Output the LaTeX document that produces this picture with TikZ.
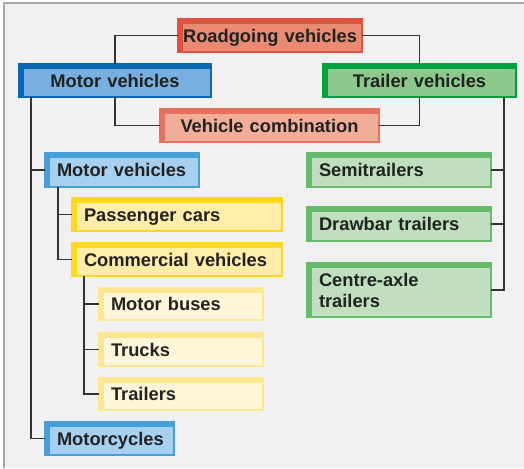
\documentclass[tikz,border=0pt]{standalone}
\usepackage{fontspec}
\setmainfont{Liberation Sans}
\definecolor{framegray}{HTML}{A6A6A6}
\definecolor{bggray}{HTML}{F1F1F1}
\definecolor{linegray}{HTML}{333333}
\definecolor{textgray}{HTML}{222222}
\definecolor{roadline}{HTML}{E2503E}
\definecolor{roadfill}{HTML}{E98A72}
\definecolor{combiline}{HTML}{E8705F}
\definecolor{combifill}{HTML}{F0AD97}
\definecolor{motorline}{HTML}{0A67B2}
\definecolor{motorfill}{HTML}{79AFE0}
\definecolor{trailerline}{HTML}{00A03E}
\definecolor{trailerfill}{HTML}{8DC98D}
\definecolor{mvline}{HTML}{45A0DA}
\definecolor{mvfill}{HTML}{A7D0F0}
\definecolor{greenline}{HTML}{66BA6C}
\definecolor{greenfill}{HTML}{BFDFBE}
\definecolor{yelline}{HTML}{FFD81C}
\definecolor{yelfill}{HTML}{FFEDA8}
\definecolor{paleline}{HTML}{FFE690}
\definecolor{palefill}{HTML}{FFF6DA}
\tikzset{
  box/.style={line width=1.2pt, outer sep=0pt, inner xsep=0pt, inner ysep=0pt,
    anchor=north west, text=textgray, text height=15.5pt, text depth=2.4pt,
    font=\fontsize{18.3}{21}\selectfont\bfseries},
  tone/.style 2 args={draw=#1, fill=#2,
    path picture={
      \fill[#1] (path picture bounding box.north west) rectangle ([yshift=-5pt]path picture bounding box.north east);
      \fill[#1] (path picture bounding box.north west) rectangle ([xshift=5pt]path picture bounding box.south west);}},
  size/.style 2 args={text width=#1, minimum height=#2},
  headbox/.style 2 args={box, tone={#1}{#2}, align=center},
  itembox/.style 2 args={box, tone={#1}{#2}, align=left,
    execute at begin node={\leftskip=12pt}},
  link/.style={draw=linegray, line width=1.2pt}
}
\begin{document}
\begin{tikzpicture}[x=1pt, y=-1pt]
    \useasboundingbox (0,0) rectangle (524,468);
    \fill[white] (0,0) rectangle (524,468);
    \fill[bggray] (4,3) rectangle (524,468);
    \draw[framegray, line width=2pt] (4,468) -- (4,3) -- (524,3);

    \node (road) [headbox={roadline}{roadfill}, size={184pt}{33pt}] at (178,19) {Roadgoing vehicles};
    \node (motor) [headbox={motorline}{motorfill}, size={192pt}{33pt}] at (19,64) {Motor vehicles};
    \node (trailer) [headbox={trailerline}{trailerfill}, size={193pt}{33pt}] at (323,64) {Trailer vehicles};
    \node (combi) [headbox={combiline}{combifill}, size={219pt}{33pt}] at (160,109) {Vehicle combination};

    \node (mvtwo) [itembox={mvline}{mvfill}, size={154pt}{34pt}] at (45,153) {Motor vehicles};
    \node (cars) [itembox={yelline}{yelfill}, size={210pt}{33pt}] at (72,198) {Passenger cars};
    \node (commercial) [itembox={yelline}{yelfill}, size={210pt}{33pt}] at (72,243) {Commercial vehicles};
    \node (buses) [itembox={paleline}{palefill}, size={164pt}{32pt}] at (99,288) {Motor buses};
    \node (trucks) [itembox={paleline}{palefill}, size={164pt}{33pt}] at (99,333) {Trucks};
    \node (trailers) [itembox={paleline}{palefill}, size={164pt}{32pt}] at (99,378) {Trailers};
    \node (cycles) [itembox={mvline}{mvfill}, size={129pt}{33pt}] at (45,422) {Motorcycles};

    \node (semi) [itembox={greenline}{greenfill}, size={184pt}{34pt}] at (307,153) {Semitrailers};
    \node (drawbar) [itembox={greenline}{greenfill}, size={184pt}{34pt}] at (307,207) {Drawbar trailers};
    \node (centre) [itembox={greenline}{greenfill}, size={184pt}{54pt}, text depth=23.4pt] at (307,263) {Centre-axle\\trailers};

    \coordinate (lspine) at ([xshift=12pt]motor.south west);
    \coordinate (mspine) at ([xshift=13pt]mvtwo.south west);
    \coordinate (cspine) at ([xshift=12pt]commercial.south west);
    \coordinate (rspine) at ([xshift=-12pt]trailer.south east);

    \draw[link] (road.west) -| (motor.north);
    \draw[link] (road.east) -| (trailer.north);
    \draw[link] (motor.south) |- (combi.west);
    \draw[link] (trailer.south) |- (combi.east);

    \draw[link] (lspine) |- (cycles.west);
    \draw[link] (mvtwo.west) -- (mvtwo.west -| lspine);
    \draw[link] (mspine) |- (commercial.west);
    \draw[link] (cars.west) -- (cars.west -| mspine);
    \draw[link] (cspine) |- (trailers.west);
    \draw[link] (buses.west) -- (buses.west -| cspine);
    \draw[link] (trucks.west) -- (trucks.west -| cspine);

    \draw[link] (rspine) |- (centre.east);
    \draw[link] (semi.east) -- (semi.east -| rspine);
    \draw[link] (drawbar.east) -- (drawbar.east -| rspine);
\end{tikzpicture}
\end{document}
